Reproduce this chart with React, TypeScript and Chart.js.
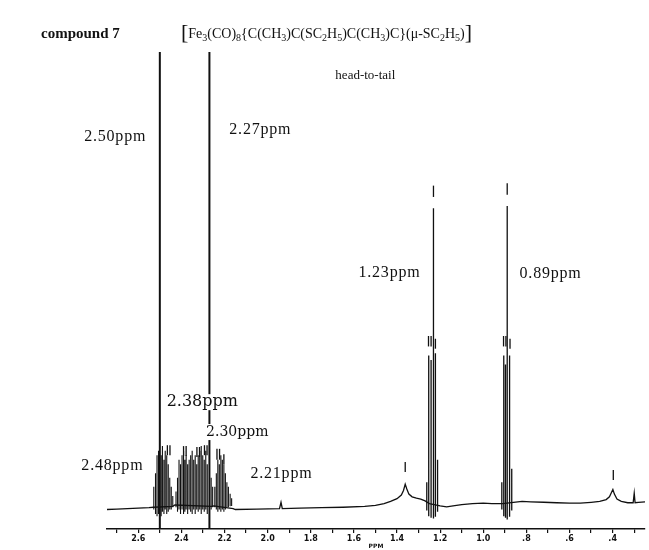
import React, { useEffect, useRef } from "react";
import { Chart, registerables } from "chart.js";

Chart.register(...registerables);

// ---- axis ticks ----
const MAJOR_TICKS = [2.6, 2.4, 2.2, 2.0, 1.8, 1.6, 1.4, 1.2, 1.0, 0.8, 0.6, 0.4];
const MAJOR_LABELS = ["2.6", "2.4", "2.2", "2.0", "1.8", "1.6", "1.4", "1.2", "1.0", ".8", ".6", ".4"];
const MINOR_TICKS = [2.7, 2.5, 2.3, 2.1, 1.9, 1.7, 1.5, 1.3, 1.1, 0.9, 0.7, 0.5, 0.3];

// ---- baseline trace (ppm, intensity) ----
const BASE_PPM = [
  2.745, 2.7, 2.65, 2.6, 2.55, 2.53, 2.44, 2.43, 2.26, 2.25, 2.16, 2.15, 2.05, 1.945, 1.938, 1.932,
  1.85, 1.75, 1.65, 1.55, 1.5, 1.46, 1.43, 1.4, 1.38, 1.37, 1.362, 1.355, 1.345, 1.33, 1.31, 1.29,
  1.27, 1.25, 1.2, 1.17, 1.14, 1.1, 1.05, 1.0, 0.96, 0.93, 0.91, 0.86, 0.82, 0.78, 0.72, 0.66,
  0.6, 0.55, 0.5, 0.46, 0.43, 0.415, 0.405, 0.399, 0.392, 0.38, 0.36, 0.33, 0.305, 0.3, 0.296,
  0.28, 0.25,
];
const BASE_INT = [
  -1.0, -0.9, -0.8, -0.7, -0.6, -0.5, -0.3, 0.0, -0.3, -0.2, -0.8, -1.0, -0.9, -0.8, 0.6, -0.8,
  -0.7, -0.6, -0.5, -0.3, -0.1, 0.3, 0.8, 1.4, 2.2, 3.2, 4.6, 3.6, 2.4, 1.8, 1.5, 1.3,
  0.9, 0.3, -0.2, -0.4, -0.2, 0.1, 0.3, 0.4, 0.3, 0.3, 0.3, 0.6, 0.8, 0.7, 0.6, 0.5,
  0.4, 0.4, 0.6, 0.8, 1.2, 1.8, 2.8, 3.4, 2.4, 1.3, 0.8, 0.5, 0.5, 2.6, 0.5,
  0.6, 0.7,
];

// ---- multiplet lines 2.53 - 2.16 ppm ----
const MULT_PPM = [
  2.528, 2.52, 2.513, 2.506, 2.494, 2.488, 2.481, 2.475, 2.468, 2.461, 2.454, 2.447, 2.44,
  2.425, 2.418, 2.411, 2.404, 2.397, 2.39, 2.384, 2.378, 2.371, 2.364, 2.357, 2.35, 2.343,
  2.336, 2.329, 2.322, 2.315, 2.308, 2.301, 2.294, 2.287, 2.28, 2.262, 2.255,
  2.245, 2.238, 2.231, 2.224, 2.217, 2.21, 2.203, 2.196, 2.189, 2.182, 2.174, 2.167,
];
const MULT_TOP = [
  4, 7, 11, 12, 11, 13, 10, 12, 11, 9, 6, 4, 2,
  3, 6, 10, 9, 11, 12, 10, 11, 9, 10, 11, 12, 10,
  11, 9, 11, 12, 13, 11, 10, 12, 9, 6, 4,
  4, 7, 10, 9, 11, 10, 9, 7, 5, 4, 2.5, 1.5,
];
const MULT_LOW = [
  -1, -2, -2.5, -2, -2.5, -1.5, -2, -1, -2, -1.5, -1, -1, -0.5,
  -0.5, -1.5, -1, -2, -1, -2, -1.5, -1, -2, -1, -1.5, -2, -1,
  -2, -1, -1.5, -1, -2, -1, -1.5, -1, -2, -1, -0.5,
  -0.5, -1, -1.5, -1, -1.5, -1, -1.5, -1, -0.5, -0.5, -0.3, -0.2,
];

// ---- methyl triplets 1.23 / 0.89 ppm ----
const CH3_PPM = [1.262, 1.253, 1.242, 1.231, 1.222, 1.212, 0.914, 0.905, 0.897, 0.889, 0.878, 0.868];
const CH3_TOP = [5, 33, 32, 65.5, 33.5, 10, 5, 33, 31, 66, 33, 8];
const CH3_LOW = [-1.2, -2.5, -2.8, -3, -2.6, -1.5, -1, -2.5, -2.8, -3.2, -2.6, -1.2];

// ---- off-scale singlets ----
const BIG_PPM = [2.5, 2.27];
const BIG_TOP = [130, 130];
const BIG_LOW = [-5.3, -5.3];

// ---- peak-pick marks ----
const MARK_PPM = [
  1.231, 0.889, 1.362, 0.397,
  1.254, 1.242, 1.222, 0.906, 0.895, 0.876,
  2.465, 2.453, 2.39, 2.378, 2.328, 2.316, 2.293, 2.281, 2.235, 2.223, 2.203,
];
const MARK_LO = [
  68, 68.5, 7.3, 5.5,
  35, 35, 34.5, 35, 35, 34.5,
  11, 11, 10.8, 10.8, 10.6, 10.6, 11, 11, 10, 10, 9,
];
const MARK_HI = [
  70.5, 71, 9.5, 7.7,
  37.3, 37.3, 36.7, 37.3, 37.3, 36.7,
  13.2, 13.2, 13, 13, 12.8, 12.8, 13.2, 13.2, 12.4, 12.4, 11.2,
];

// ---- annotation texts (anchored in ppm / intensity) ----
const NOTE_TEXT = ["2.50ppm", "2.27ppm", "2.38ppm", "2.30ppm", "2.48ppm", "2.21ppm", "1.23ppm", "0.89ppm", "head-to-tail"];
const NOTE_PPM = [2.707, 2.034, 2.303, 2.141, 2.72, 1.936, 1.435, 0.688, 1.547];
const NOTE_INT = [81.2, 82.8, 22.7, 16.1, 8.6, 6.8, 51.2, 51.0, 94.9];

const TITLE = "compound 7";
const FORMULA: [string, string][] = [
  ["[", "b"], ["Fe", ""], ["3", "s"], ["(CO)", ""], ["8", "s"], ["{C(CH", ""], ["3", "s"],
  [")C(SC", ""], ["2", "s"], ["H", ""], ["5", "s"], [")C(CH", ""], ["3", "s"], [")C}(\u03bc-SC", ""],
  ["2", "s"], ["H", ""], ["5", "s"], [")", ""], ["]", "b"],
];

const sticks = (ppm: number[], lo: number[], hi: number[]) =>
  ppm.flatMap((p, i) => [
    { x: p, y: lo[i] },
    { x: p, y: hi[i] },
    { x: p, y: null as any },
  ]);

const NOTE_STYLE: { font: string; spacing: string; mask: boolean }[] = [
  { font: '16px "Liberation Serif"', spacing: "0.8px", mask: false },
  { font: '16px "Liberation Serif"', spacing: "0.8px", mask: false },
  { font: '16px "DejaVu Serif"', spacing: "0px", mask: true },
  { font: '14px "DejaVu Serif"', spacing: "0px", mask: true },
  { font: '16px "Liberation Serif"', spacing: "0.8px", mask: false },
  { font: '16px "Liberation Serif"', spacing: "0.8px", mask: false },
  { font: '16px "Liberation Serif"', spacing: "0.8px", mask: false },
  { font: '16px "Liberation Serif"', spacing: "0.8px", mask: false },
  { font: '13px "Liberation Serif"', spacing: "0px", mask: false },
];

const annotPlugin = {
  id: "annot",
  afterDatasetsDraw(chart: any) {
    const { ctx, scales } = chart;
    const x = scales.x;
    const y = scales.y;
    ctx.save();
    // peak-pick marks
    ctx.strokeStyle = "#111";
    ctx.lineWidth = 1.3;
    MARK_PPM.forEach((p, i) => {
      const px = x.getPixelForValue(p);
      ctx.beginPath();
      ctx.moveTo(px, y.getPixelForValue(MARK_LO[i]));
      ctx.lineTo(px, y.getPixelForValue(MARK_HI[i]));
      ctx.stroke();
    });
    // notes
    ctx.textBaseline = "middle";
    ctx.textAlign = "center";
    NOTE_TEXT.forEach((t, i) => {
      const st = NOTE_STYLE[i];
      ctx.font = st.font;
      (ctx as any).letterSpacing = st.spacing;
      const cx = x.getPixelForValue(NOTE_PPM[i]);
      const cy = y.getPixelForValue(NOTE_INT[i]);
      if (st.mask) {
        const w = ctx.measureText(t).width;
        ctx.fillStyle = "#fff";
        ctx.fillRect(cx - w / 2 - 2, cy - 8, w + 4, 16);
      }
      ctx.fillStyle = "#111";
      ctx.fillText(t, cx, cy);
    });
    (ctx as any).letterSpacing = "0px";
    // title
    const ty = chart.chartArea.top - 18;
    ctx.textAlign = "left";
    ctx.font = 'bold 15px "Liberation Serif"';
    ctx.fillStyle = "#111";
    ctx.fillText(TITLE, 41, ty);
    // formula
    let fx = 181;
    FORMULA.forEach(([t, k]) => {
      if (k === "b") {
        ctx.font = '22px "Liberation Serif"';
        ctx.fillText(t, fx, ty - 1);
      } else if (k === "s") {
        ctx.font = '10px "Liberation Serif"';
        ctx.fillText(t, fx, ty + 4);
      } else {
        ctx.font = '14px "Liberation Serif"';
        ctx.fillText(t, fx, ty);
      }
      fx += ctx.measureText(t).width;
    });
    ctx.restore();
  },
};

export default function App() {
  const ref = useRef<HTMLCanvasElement | null>(null);
  useEffect(() => {
    if (!ref.current) return;
    const baseline = BASE_PPM.map((p, i) => ({ x: p, y: BASE_INT[i] }));
    const chart = new Chart(ref.current, {
      type: "line",
      data: {
        datasets: [
          { data: baseline, borderColor: "#111", borderWidth: 1.3, pointRadius: 0, tension: 0 },
          { data: sticks(MULT_PPM, MULT_LOW, MULT_TOP), borderColor: "#111", borderWidth: 1.1, pointRadius: 0, spanGaps: false },
          { data: sticks(CH3_PPM, CH3_LOW, CH3_TOP), borderColor: "#111", borderWidth: 1.3, pointRadius: 0, spanGaps: false },
          { data: sticks(BIG_PPM, BIG_LOW, BIG_TOP), borderColor: "#111", borderWidth: 2, pointRadius: 0, spanGaps: false },
        ] as any,
      },
      options: {
        responsive: false,
        animation: false,
        devicePixelRatio: 1,
        events: [],
        layout: { padding: { left: 107, right: 4, top: 52, bottom: 0 } },
        plugins: { legend: { display: false }, tooltip: { enabled: false } },
        scales: {
          x: {
            type: "linear",
            min: 0.25,
            max: 2.745,
            reverse: true,
            afterBuildTicks: (s: any) => {
              s.ticks = [...MAJOR_TICKS, ...MINOR_TICKS].sort((a, b) => a - b).map((v) => ({ value: v }));
            },
            afterFit: (s: any) => {
              s.height = 21;
            },
            ticks: {
              autoSkip: false,
              maxRotation: 0,
              padding: 1,
              color: "#111",
              font: { family: "DejaVu Sans", size: 8, weight: "bold" },
              callback: (v: any) => {
                const i = MAJOR_TICKS.findIndex((m) => Math.abs(m - Number(v)) < 1e-6);
                return i >= 0 ? MAJOR_LABELS[i] : "";
              },
            },
            grid: { drawOnChartArea: false, drawTicks: true, tickLength: 4, color: "#111", lineWidth: 1.2 },
            border: { display: true, color: "#111", width: 1.5 },
            title: { display: true, text: "PPM", color: "#111", padding: 0, font: { family: "DejaVu Sans", size: 6, weight: "bold" } },
          } as any,
          y: { display: false, min: -5.3, max: 100 },
        },
      },
      plugins: [annotPlugin],
    });
    return () => chart.destroy();
  }, []);
  return (
    <div style={{ position: "absolute", left: 0, top: 0, width: 649, height: 550, background: "#fff" }}>
      <canvas ref={ref} width={649} height={550} style={{ width: 649, height: 550, display: "block" }} />
    </div>
  );
}
